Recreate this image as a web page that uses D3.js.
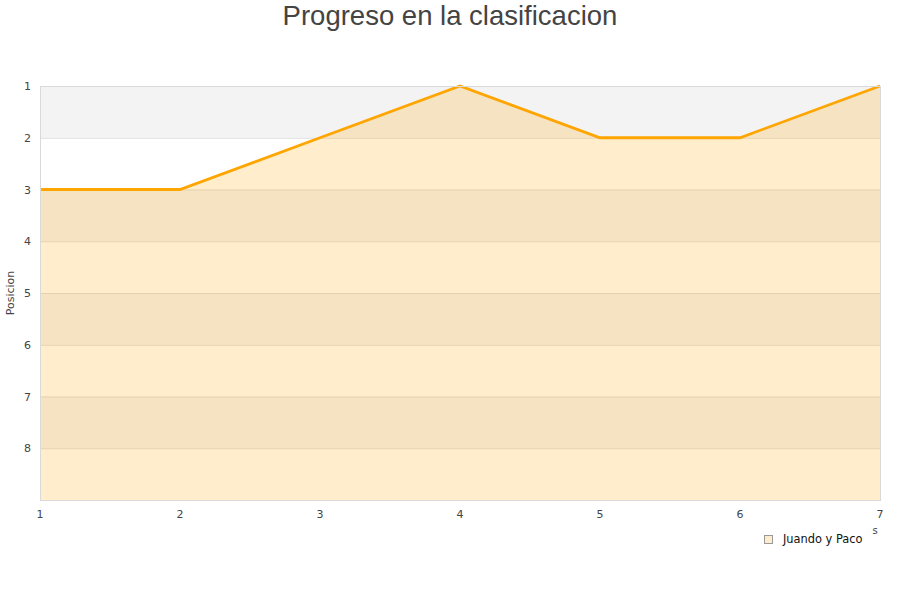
<!DOCTYPE html>
<html><head><meta charset="utf-8">
<script src="https://cdn.jsdelivr.net/npm/d3@7"></script>
<style>body{margin:0;background:#fff}svg{display:block}</style>
</head><body>
<script>
const jornadas = [1,2,3,4,5,6,7];
const posiciones = [3,3,2,1,2,2,1];
const yTicks = [1,2,3,4,5,6,7,8];
const seriesName = "Juando y Paco";
const titleText = "Progreso en la clasificacion";
const yLabel = "Posicion";

const W=900,H=600, m={l:40,r:20,t:86,b:100};
const svg=d3.select("body").append("svg").attr("width",W).attr("height",H);
const x=d3.scaleLinear().domain([1,7]).range([m.l,W-m.r]);
const y=d3.scaleLinear().domain([1,9]).range([m.t,H-m.b]);

// bands
const bands=d3.range(1,9);
svg.selectAll("rect.band").data(bands).join("rect")
 .attr("x",x(1)).attr("width",x(7)-x(1))
 .attr("y",d=>y(d)).attr("height",d=>y(d+1)-y(d))
 .attr("fill",d=>d%2===1?"#f3f3f3":"#ffffff");
// grid
svg.selectAll("line.grid").data(d3.range(2,9)).join("line")
 .attr("x1",x(1)).attr("x2",x(7)).attr("y1",d=>y(d)+0.5).attr("y2",d=>y(d)+0.5)
 .attr("stroke","#dddddd");

const data=jornadas.map((j,i)=>({j,p:posiciones[i]}));
svg.append("path").datum(data)
 .attr("d",d3.area().x(d=>x(d.j)).y0(y(9)).y1(d=>y(d.p)))
 .attr("fill","#ffa500").attr("fill-opacity",0.2);
svg.append("path").datum(data)
 .attr("d",d3.line().x(d=>x(d.j)).y(d=>y(d.p)))
 .attr("fill","none").attr("stroke","#ffa500").attr("stroke-width",2.8);

// border
svg.append("rect").attr("x",x(1)+0.5).attr("y",y(1)+0.5).attr("width",x(7)-x(1)).attr("height",y(9)-y(1))
 .attr("fill","none").attr("stroke","#d9d9d9");

const font="DejaVu Sans, sans-serif";
svg.selectAll("text.yt").data(yTicks).join("text")
 .attr("x",31).attr("y",d=>y(d)+4).attr("text-anchor","end")
 .attr("font-family",font).attr("font-size",11).attr("fill","#444").text(d=>d);
svg.selectAll("text.xt").data(jornadas).join("text")
 .attr("x",d=>x(d)).attr("y",518).attr("text-anchor","middle")
 .attr("font-family",font).attr("font-size",11).attr("fill","#444").text(d=>d);

svg.append("text").attr("transform",`translate(14,${y(5)}) rotate(-90)`)
 .attr("text-anchor","middle").attr("font-family",font).attr("font-size",11).attr("fill","#444").text(yLabel);
svg.append("text").attr("x",875).attr("y",534).attr("text-anchor","middle")
 .attr("font-family",font).attr("font-size",10).attr("fill","#444").text("s");

svg.append("text").attr("x",450).attr("y",25).attr("text-anchor","middle")
 .attr("font-family","Liberation Sans, Arial, sans-serif").attr("font-size",27.5).attr("fill","#444").text(titleText);

// legend
svg.append("rect").attr("x",764.5).attr("y",535.5).attr("width",8).attr("height",8)
 .attr("fill","#feecce").attr("stroke","#999");
svg.append("text").attr("x",783).attr("y",543).attr("font-family",font).attr("font-size",11.4).attr("fill","#111").text(seriesName);
</script>
</body></html>
